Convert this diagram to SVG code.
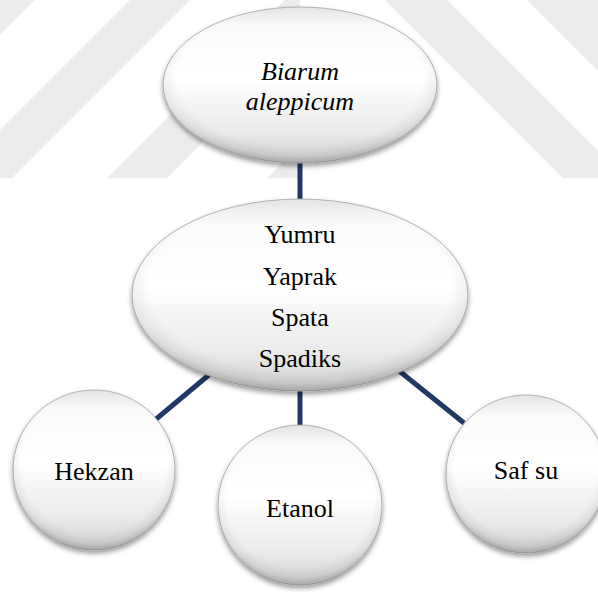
<svg xmlns="http://www.w3.org/2000/svg" width="598" height="592" viewBox="0 0 598 592">
<defs>
<style>
.wm{fill:#ececec;}
.conn{stroke:#1f3864;stroke-width:5;fill:none;}
.body{fill:url(#lg);stroke:#a3a3a3;stroke-width:0.8;filter:url(#sh);}
.rim{fill:url(#rg);stroke:none;}
.t{font-family:"Liberation Serif","Times New Roman",serif;font-size:26px;fill:#000;text-anchor:middle;}
.it{font-style:italic;}
</style>
<linearGradient id="lg" x1="0" y1="0" x2="0" y2="1">
<stop offset="0" stop-color="#e4e4e4"/>
<stop offset="0.12" stop-color="#fafafa"/>
<stop offset="0.45" stop-color="#ffffff"/>
<stop offset="0.8" stop-color="#eaeaea"/>
<stop offset="1" stop-color="#cfcfcf"/>
</linearGradient>
<radialGradient id="rg" cx="0.5" cy="0.45" r="0.55">
<stop offset="0.82" stop-color="#000" stop-opacity="0"/>
<stop offset="0.92" stop-color="#000" stop-opacity="0.06"/>
<stop offset="1" stop-color="#000" stop-opacity="0.2"/>
</radialGradient>
<filter id="sh" x="-10%" y="-10%" width="120%" height="125%">
<feDropShadow dx="0" dy="3" stdDeviation="2.5" flood-color="#000" flood-opacity="0.4"/>
</filter>
<clipPath id="cl"><rect x="0" y="0" width="300" height="178"/></clipPath>
<clipPath id="cr"><rect x="300" y="0" width="298" height="178"/></clipPath>
</defs>
<rect width="598" height="592" fill="#fff"/>
<g id="watermark">
<g clip-path="url(#cl)">
<polygon class="wm" points="0,0 35,0 0,35"/>
<polygon class="wm" points="130,0 190,0 12,178 0,178 0,130"/>
<polygon class="wm" points="285,0 345,0 167,178 107,178"/>
<polygon class="wm" points="445,0 505,0 327,178 267,178"/>
</g>
<g clip-path="url(#cr)">
<polygon class="wm" points="385,0 447,0 598,151 598,178 563,178"/>
<polygon class="wm" points="527,0 598,0 598,71"/>
</g>
</g>
<g id="connectors">
<line class="conn" x1="300" y1="160" x2="300" y2="202"/>
<line class="conn" x1="210" y1="374" x2="155" y2="420"/>
<line class="conn" x1="300" y1="388" x2="300" y2="428"/>
<line class="conn" x1="398" y1="370" x2="464" y2="423"/>
</g>
<g id="node-biarum">
<ellipse class="body" cx="300" cy="85" rx="137" ry="78"/>
<ellipse class="rim" cx="300" cy="85" rx="137" ry="78"/>
<text class="t it" x="300" y="80">Biarum</text>
<text class="t it" x="300" y="110">aleppicum</text>
</g>
<g id="node-parts">
<ellipse class="body" cx="300" cy="295" rx="168" ry="96"/>
<ellipse class="rim" cx="300" cy="295" rx="168" ry="96"/>
<text class="t" x="300" y="243">Yumru</text>
<text class="t" x="300" y="285">Yaprak</text>
<text class="t" x="300" y="326">Spata</text>
<text class="t" x="300" y="367">Spadiks</text>
</g>
<g id="node-hekzan">
<ellipse class="body" cx="94" cy="470" rx="81" ry="80"/>
<ellipse class="rim" cx="94" cy="470" rx="81" ry="80"/>
<text class="t" x="94" y="480">Hekzan</text>
</g>
<g id="node-etanol">
<ellipse class="body" cx="300" cy="505" rx="82" ry="80"/>
<ellipse class="rim" cx="300" cy="505" rx="82" ry="80"/>
<text class="t" x="300" y="517">Etanol</text>
</g>
<g id="node-safsu">
<ellipse class="body" cx="526" cy="474" rx="80" ry="79"/>
<ellipse class="rim" cx="526" cy="474" rx="80" ry="79"/>
<text class="t" x="526" y="479">Saf su</text>
</g>
</svg>
